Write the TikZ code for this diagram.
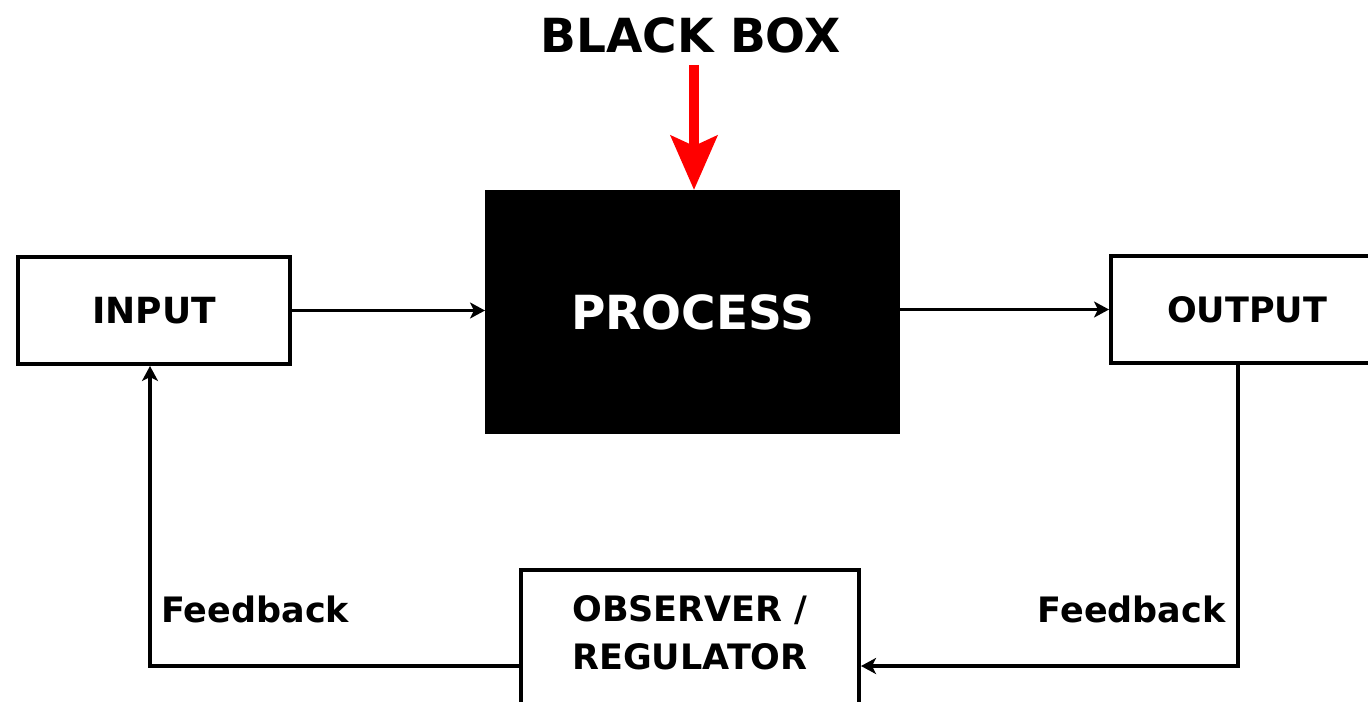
\documentclass[tikz,border=0pt]{standalone}
\usepackage{fontspec}
\setmainfont{DejaVu Sans}
\usetikzlibrary{arrows.meta}

\tikzset{
  block/.style={draw=black, line width=2pt, fill=white, inner sep=0pt,
                font=\bfseries\fontsize{17.5}{24}\selectfont, align=center},
  flow/.style={line width=1.6pt, -{Stealth[length=7.5pt,width=8pt,inset=2pt]}},
  lbl/.style={font=\bfseries\fontsize{17.5}{21}\selectfont, inner sep=0pt}
}

\begin{document}
\begin{tikzpicture}[x=0.5pt, y=-0.5pt]
  \useasboundingbox (0,0) rectangle (1368,701);
  \clip (0,0) rectangle (1368,701);

  % blocks
  \node[block, minimum width=136pt, minimum height=53.5pt,
        font=\bfseries\fontsize{18}{22}\selectfont] (in) at (154,310.5) {INPUT};
  \node[block, fill=black, draw=black, text=white, minimum width=205.5pt, minimum height=120pt,
        font=\bfseries\fontsize{23.5}{28}\selectfont] (proc) at (692.5,312) {PROCESS};
  \node[block, minimum width=136pt, minimum height=53.5pt] (out) at (1247,309.5) {OUTPUT};
  \node[block, minimum width=169pt, minimum height=71pt, text depth=8pt] (obs) at (690,641)
        {OBSERVER /\\REGULATOR};

  % title and red pointer
  \node[font=\bfseries\fontsize{23.5}{28}\selectfont, inner sep=0pt, anchor=base]
        (title) at (690.5,53) {BLACK BOX};
  \coordinate (rtop) at (694,65);
  \draw[red, line width=5pt, -{Stealth[length=27pt,width=23pt,inset=5pt]}]
        (rtop) -- (rtop |- proc.north);

  % forward path
  \draw[flow] (in.east) -- (in.east -| proc.west);
  \draw[flow] (out.west -| proc.east) -- (out.west);

  % feedback loop
  \coordinate (fbR) at (1238,666);
  \coordinate (fbL) at (150,666);
  \draw[flow] (fbR |- out.south) -- (fbR) -- (fbR -| obs.east);
  \draw[flow] (fbL -| obs.west) -- (fbL) -- (fbL |- in.south);

  \node[lbl, anchor=base west] (fbLtxt) at (161,622) {Feedback};
  \node[lbl, anchor=base east] (fbRtxt) at (1226,622) {Feedback};
\end{tikzpicture}
\end{document}
